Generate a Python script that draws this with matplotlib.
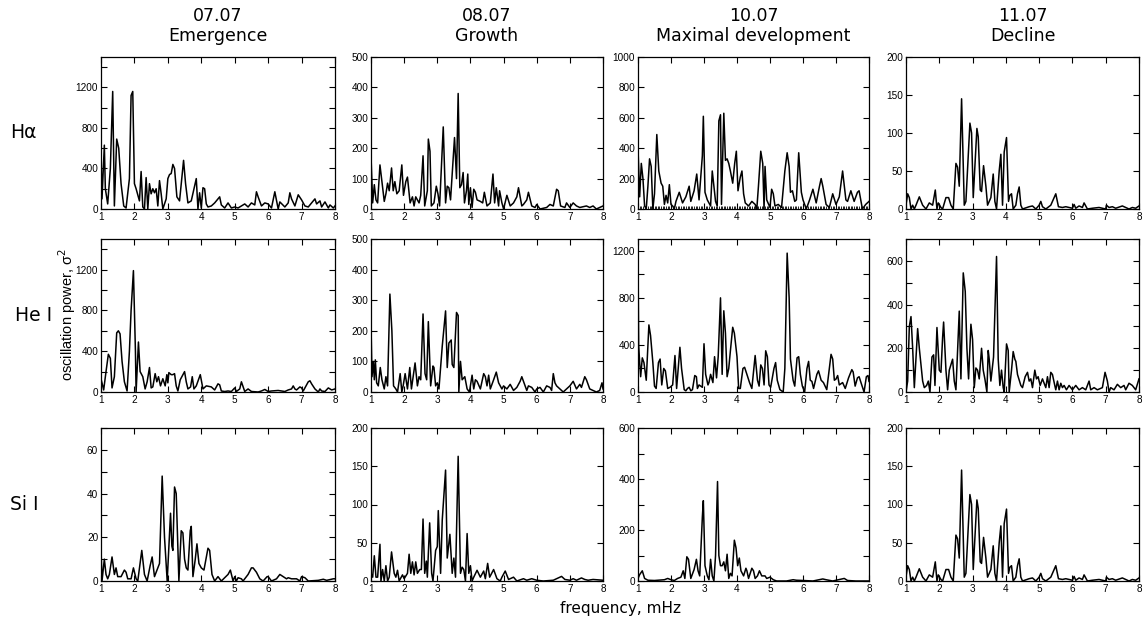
import numpy as np
import matplotlib.pyplot as plt

dates = ['07.07', '08.07', '10.07', '11.07']
phases = ['Emergence', 'Growth', 'Maximal development', 'Decline']
lines = ['Hα', 'He I', 'Si I']

# H-alpha spectra
ha_0707_f = [1.0, 1.03, 1.1, 1.13, 1.2, 1.28, 1.35, 1.4, 1.47, 1.53, 1.6, 1.68, 1.75, 1.85, 1.9, 1.95,
             2.0, 2.05, 2.15, 2.2, 2.25, 2.3, 2.35, 2.4, 2.45, 2.5, 2.55, 2.6, 2.65, 2.7, 2.75, 2.8,
             2.85, 2.95, 3.0, 3.05, 3.1, 3.15, 3.2, 3.27, 3.35, 3.47, 3.53, 3.6, 3.7, 3.85, 3.9, 3.95,
             4.0, 4.05, 4.1, 4.15, 4.2, 4.3, 4.4, 4.55, 4.6, 4.7, 4.8, 4.9, 5.0, 5.1, 5.3, 5.4, 5.5,
             5.6, 5.65, 5.7, 5.8, 5.9, 6.0, 6.1, 6.2, 6.3, 6.35, 6.5, 6.6, 6.65, 6.7, 6.8, 6.9, 7.0,
             7.1, 7.2, 7.4, 7.45, 7.55, 7.6, 7.7, 7.8, 7.85, 7.95, 8.0]
ha_0707_p = [600, 100, 630, 200, 50, 400, 1160, 30, 690, 600, 250, 30, 10, 300, 1120, 1160,
             250, 200, 80, 370, 20, 0, 310, 0, 250, 150, 200, 160, 200, 30, 280, 150,
             0, 100, 300, 340, 350, 440, 400, 120, 80, 480, 250, 60, 80, 300, 0, 160,
             10, 210, 200, 50, 20, 30, 60, 120, 40, 10, 60, 10, 20, 10, 50, 20, 60,
             40, 170, 120, 30, 60, 50, 10, 170, 0, 70, 20, 60, 160, 100, 30, 140, 90,
             30, 20, 100, 50, 80, 20, 70, 10, 40, 10, 30]

ha_0807_f = [1.0, 1.05, 1.1, 1.15, 1.2, 1.27, 1.33, 1.4, 1.45, 1.5, 1.55, 1.62, 1.67, 1.72, 1.78,
             1.85, 1.93, 1.98, 2.05, 2.1, 2.18, 2.25, 2.3, 2.35, 2.4, 2.45, 2.5, 2.57, 2.62, 2.7,
             2.73, 2.78, 2.82, 2.9, 2.97, 3.02, 3.07, 3.18, 3.25, 3.3, 3.35, 3.4, 3.52, 3.58, 3.63,
             3.68, 3.73, 3.78, 3.82, 3.88, 3.92, 3.95, 4.0, 4.05, 4.1, 4.15, 4.2, 4.3, 4.37, 4.42,
             4.5, 4.6, 4.68, 4.73, 4.78, 4.85, 4.88, 4.95, 5.0, 5.1, 5.2, 5.3, 5.4, 5.45, 5.55, 5.6,
             5.7, 5.75, 5.85, 5.95, 6.0, 6.1, 6.3, 6.4, 6.5, 6.6, 6.65, 6.72, 6.85, 6.9, 7.0, 7.1,
             7.2, 7.3, 7.5, 7.6, 7.7, 7.8, 7.9, 8.0]
ha_0807_p = [175, 20, 80, 30, 20, 145, 90, 25, 50, 85, 60, 135, 60, 90, 50,
             60, 145, 45, 90, 105, 20, 40, 10, 40, 30, 20, 45, 175, 10, 60,
             230, 190, 10, 20, 75, 50, 10, 270, 20, 75, 70, 30, 235, 100, 380,
             70, 80, 120, 20, 60, 115, 15, 70, 5, 65, 55, 30, 25, 20, 55,
             10, 20, 115, 20, 70, 10, 60, 20, 0, 45, 10, 20, 40, 70, 10, 15,
             30, 55, 10, 5, 15, 0, 5, 15, 10, 65, 60, 10, 5, 20, 5, 20,
             10, 5, 10, 5, 10, 0, 5, 10]

ha_1007_f = [1.0, 1.05, 1.1, 1.15, 1.2, 1.25, 1.3, 1.35, 1.4, 1.45, 1.5, 1.57, 1.63, 1.7, 1.75,
             1.8, 1.85, 1.9, 1.95, 2.0, 2.05, 2.1, 2.15, 2.25, 2.35, 2.45, 2.55, 2.6, 2.7, 2.78,
             2.85, 2.95, 2.98, 3.03, 3.1, 3.2, 3.25, 3.3, 3.35, 3.4, 3.45, 3.5, 3.53, 3.6, 3.65,
             3.7, 3.75, 3.8, 3.87, 3.93, 3.98, 4.03, 4.1, 4.15, 4.2, 4.25, 4.35, 4.45, 4.55, 4.6,
             4.65, 4.72, 4.78, 4.82, 4.85, 4.9, 5.0, 5.05, 5.1, 5.15, 5.25, 5.35, 5.45, 5.52, 5.58,
             5.62, 5.68, 5.75, 5.8, 5.87, 5.95, 6.0, 6.1, 6.2, 6.3, 6.4, 6.5, 6.55, 6.6, 6.7, 6.8,
             6.9, 7.0, 7.1, 7.2, 7.3, 7.35, 7.45, 7.55, 7.65, 7.7, 7.8, 7.9, 8.0]
ha_1007_p = [400, 80, 300, 200, 20, 0, 150, 330, 280, 0, 100, 490, 250, 170, 150,
             30, 90, 40, 160, 30, 20, 0, 50, 110, 40, 80, 150, 50, 120, 230,
             60, 350, 610, 110, 60, 20, 250, 150, 50, 20, 580, 620, 30, 630, 320,
             330, 300, 250, 170, 300, 380, 120, 210, 250, 100, 40, 20, 50, 30, 0,
             150, 380, 300, 0, 280, 60, 10, 130, 100, 20, 30, 10, 250, 370, 280,
             110, 120, 50, 60, 370, 110, 60, 0, 60, 130, 40, 150, 200, 150, 30, 10,
             100, 30, 80, 250, 60, 50, 120, 50, 110, 120, 0, 30, 50]

# 11.07 (identical in the Halpha and Si I rows of the original figure)
d1107_f = [1.0, 1.05, 1.1, 1.15, 1.2, 1.25, 1.3, 1.4, 1.5, 1.6, 1.7, 1.8, 1.88, 1.93, 1.97, 2.05,
           2.1, 2.2, 2.28, 2.35, 2.42, 2.5, 2.55, 2.6, 2.67, 2.75, 2.8, 2.92, 2.97, 3.02, 3.13,
           3.17, 3.23, 3.27, 3.33, 3.4, 3.45, 3.55, 3.62, 3.67, 3.72, 3.8, 3.85, 3.9, 3.95, 4.02,
           4.08, 4.12, 4.17, 4.22, 4.3, 4.35, 4.4, 4.45, 4.5, 4.7, 4.8, 4.9, 5.0, 5.05, 5.1, 5.2,
           5.35, 5.5, 5.58, 5.7, 5.8, 6.0, 6.05, 6.1, 6.2, 6.3, 6.35, 6.45, 6.6, 6.8, 7.0, 7.02,
           7.1, 7.2, 7.3, 7.5, 7.6, 7.7, 7.8, 7.9, 8.0]
d1107_p = [5, 20, 15, 0, 5, 0, 5, 16, 5, 0, 8, 5, 25, 0, 8, 2,
           0, 15, 15, 5, 0, 60, 55, 30, 145, 5, 10, 113, 100, 15, 106,
           95, 25, 23, 57, 30, 5, 15, 46, 10, 0, 50, 72, 5, 75, 94,
           10, 18, 20, 0, 5, 20, 29, 5, 0, 3, 4, 0, 5, 10, 3, 0,
           5, 20, 3, 2, 3, 1, 6, 1, 4, 2, 8, 0, 1, 2, 0, 5,
           2, 3, 1, 4, 2, 0, 2, 1, 4]

# He I spectra
he_0707_f = [1.0, 1.08, 1.15, 1.22, 1.28, 1.33, 1.4, 1.47, 1.52, 1.57, 1.63, 1.7, 1.78, 1.85, 1.9,
             1.97, 2.03, 2.05, 2.12, 2.17, 2.25, 2.32, 2.38, 2.45, 2.5, 2.55, 2.62, 2.67, 2.72, 2.78,
             2.85, 2.92, 2.97, 3.0, 3.03, 3.1, 3.15, 3.2, 3.25, 3.3, 3.37, 3.5, 3.55, 3.6, 3.68,
             3.73, 3.78, 3.85, 3.97, 4.05, 4.15, 4.3, 4.4, 4.5, 4.55, 4.6, 4.7, 4.8, 4.9, 5.0,
             5.05, 5.15, 5.2, 5.3, 5.4, 5.5, 5.7, 5.8, 5.9, 6.0, 6.1, 6.3, 6.5, 6.6, 6.7, 6.75,
             6.8, 6.85, 6.95, 7.0, 7.05, 7.2, 7.25, 7.3, 7.4, 7.5, 7.55, 7.6, 7.7, 7.8, 7.85, 7.9, 8.0]
he_0707_p = [130, 20, 200, 370, 330, 40, 150, 580, 600, 570, 300, 100, 10, 400, 800,
             1190, 400, 0, 490, 200, 150, 30, 100, 240, 40, 50, 180, 100, 150, 60,
             130, 60, 170, 90, 190, 170, 170, 180, 60, 10, 120, 200, 100, 30, 50,
             150, 30, 60, 170, 30, 60, 50, 20, 80, 70, 10, 5, 10, 5, 40,
             5, 30, 100, 5, 30, 5, 0, 10, 25, 5, 10, 15, 5, 20, 30, 60,
             30, 20, 50, 40, 10, 100, 110, 80, 30, 0, 30, 10, 5, 40, 30, 20, 30]

he_0807_f = [1.0, 1.03, 1.07, 1.1, 1.13, 1.17, 1.22, 1.28, 1.33, 1.4, 1.45, 1.5, 1.57, 1.63, 1.68,
             1.75, 1.8, 1.88, 1.93, 1.97, 2.03, 2.1, 2.17, 2.22, 2.33, 2.4, 2.45, 2.5, 2.57, 2.63,
             2.68, 2.73, 2.8, 2.87, 2.9, 2.95, 3.0, 3.05, 3.15, 3.25, 3.3, 3.35, 3.42, 3.45, 3.5,
             3.58, 3.63, 3.65, 3.7, 3.75, 3.83, 3.9, 3.97, 4.05, 4.1, 4.15, 4.2, 4.3, 4.4, 4.45,
             4.5, 4.55, 4.6, 4.7, 4.78, 4.85, 4.9, 4.95, 5.0, 5.1, 5.2, 5.3, 5.4, 5.5, 5.55, 5.6,
             5.7, 5.75, 5.85, 5.95, 6.0, 6.1, 6.2, 6.3, 6.4, 6.45, 6.5, 6.55, 6.6, 6.7, 6.8, 6.9,
             7.0, 7.1, 7.2, 7.3, 7.35, 7.45, 7.5, 7.6, 7.7, 7.8, 7.9, 7.97, 8.0]
he_0807_p = [220, 50, 100, 40, 105, 30, 20, 80, 40, 10, 50, 20, 320, 200, 20,
             10, 0, 60, 0, 20, 60, 10, 80, 10, 95, 20, 50, 40, 255, 60,
             40, 230, 20, 85, 80, 20, 30, 10, 150, 265, 80, 160, 170, 90, 80,
             260, 250, 0, 100, 40, 50, 10, 0, 55, 10, 40, 35, 10, 60, 50,
             20, 55, 10, 40, 65, 30, 20, 10, 20, 10, 25, 5, 15, 35, 50, 35,
             5, 20, 15, 0, 10, 15, 0, 20, 15, 5, 60, 30, 20, 10, 0, 10,
             20, 35, 10, 25, 15, 50, 40, 10, 5, 0, 5, 30, 10]

he_1007_f = [1.0, 1.02, 1.05, 1.08, 1.13, 1.18, 1.25, 1.33, 1.38, 1.45, 1.5, 1.55, 1.62, 1.67, 1.72,
             1.78, 1.83, 1.9, 1.97, 2.05, 2.12, 2.17, 2.27, 2.32, 2.4, 2.45, 2.5, 2.55, 2.6, 2.65,
             2.72, 2.77, 2.8, 2.85, 2.9, 2.95, 3.0, 3.05, 3.12, 3.15, 3.2, 3.27, 3.32, 3.38, 3.43,
             3.5, 3.55, 3.6, 3.65, 3.7, 3.75, 3.8, 3.87, 3.92, 4.0, 4.05, 4.1, 4.18, 4.23, 4.3,
             4.38, 4.45, 4.55, 4.62, 4.67, 4.72, 4.77, 4.82, 4.87, 4.92, 4.97, 5.02, 5.12, 5.17, 5.22,
             5.3, 5.4, 5.45, 5.52, 5.58, 5.62, 5.7, 5.75, 5.82, 5.87, 5.92, 5.98, 6.05, 6.12, 6.17,
             6.22, 6.27, 6.32, 6.42, 6.47, 6.55, 6.62, 6.72, 6.85, 6.9, 6.95, 7.0, 7.05, 7.1, 7.2,
             7.28, 7.38, 7.48, 7.52, 7.58, 7.65, 7.7, 7.78, 7.85, 7.92, 7.97, 8.0]
he_1007_p = [1150, 400, 250, 130, 290, 250, 100, 570, 480, 250, 50, 30, 250, 280, 60,
             200, 180, 30, 40, 60, 310, 30, 380, 200, 20, 10, 30, 40, 10, 20,
             140, 130, 30, 60, 50, 40, 410, 150, 60, 80, 150, 80, 300, 120, 300,
             800, 150, 690, 500, 130, 200, 350, 550, 500, 300, 30, 30, 200, 210, 150,
             80, 30, 310, 100, 50, 230, 200, 60, 350, 300, 60, 40, 200, 250, 100,
             20, 0, 200, 1180, 800, 280, 100, 50, 290, 300, 150, 50, 0, 200, 260,
             100, 90, 30, 150, 180, 100, 80, 20, 320, 280, 100, 110, 140, 60, 80,
             30, 120, 190, 170, 50, 120, 130, 60, 0, 130, 140, 90]

he_1107_f = [1.0, 1.05, 1.1, 1.15, 1.2, 1.25, 1.35, 1.4, 1.5, 1.55, 1.62, 1.67, 1.72, 1.78, 1.83,
             1.87, 1.93, 2.0, 2.05, 2.1, 2.13, 2.2, 2.25, 2.3, 2.4, 2.45, 2.5, 2.6, 2.65, 2.72,
             2.78, 2.83, 2.88, 2.95, 3.0, 3.05, 3.1, 3.15, 3.2, 3.27, 3.32, 3.37, 3.43, 3.47, 3.5,
             3.55, 3.63, 3.72, 3.77, 3.82, 3.87, 3.92, 3.95, 4.02, 4.07, 4.1, 4.17, 4.22, 4.27, 4.3,
             4.35, 4.45, 4.5, 4.58, 4.65, 4.7, 4.75, 4.8, 4.87, 4.92, 4.97, 5.03, 5.1, 5.15, 5.2,
             5.25, 5.3, 5.35, 5.4, 5.47, 5.5, 5.55, 5.6, 5.65, 5.7, 5.75, 5.82, 5.9, 6.0, 6.1,
             6.2, 6.3, 6.4, 6.5, 6.55, 6.65, 6.75, 6.9, 6.98, 7.05, 7.1, 7.15, 7.25, 7.35, 7.45,
             7.55, 7.6, 7.7, 7.8, 7.9, 8.0]
he_1107_p = [0, 50, 300, 345, 200, 20, 290, 200, 50, 20, 30, 50, 0, 160, 170,
             30, 295, 100, 90, 250, 320, 100, 10, 100, 150, 50, 10, 370, 60, 545,
             460, 200, 60, 310, 240, 20, 110, 100, 60, 200, 100, 60, 0, 190, 150,
             50, 160, 620, 150, 30, 100, 20, 0, 220, 190, 0, 100, 185, 150, 140,
             80, 30, 20, 70, 90, 50, 60, 20, 100, 60, 70, 30, 60, 40, 20,
             70, 20, 90, 80, 30, 10, 50, 10, 40, 20, 30, 10, 30, 10, 30,
             10, 20, 10, 50, 10, 20, 10, 20, 90, 50, 0, 20, 10, 35, 20,
             30, 10, 40, 30, 10, 60]

# Si I spectra
si_0707_f = [1.0, 1.03, 1.1, 1.15, 1.2, 1.25, 1.33, 1.4, 1.45, 1.5, 1.6, 1.7, 1.75, 1.8, 1.9, 1.97,
             2.05, 2.1, 2.22, 2.3, 2.38, 2.47, 2.53, 2.6, 2.7, 2.75, 2.83, 2.9, 2.98, 3.08, 3.12,
             3.15, 3.2, 3.25, 3.33, 3.4, 3.45, 3.5, 3.55, 3.6, 3.67, 3.7, 3.75, 3.82, 3.87, 3.93,
             4.0, 4.08, 4.2, 4.25, 4.32, 4.4, 4.5, 4.6, 4.8, 4.87, 4.95, 5.0, 5.05, 5.1, 5.2, 5.25,
             5.4, 5.5, 5.55, 5.65, 5.75, 5.85, 5.97, 6.0, 6.1, 6.25, 6.35, 6.45, 6.55, 6.6, 6.7,
             6.85, 6.95, 7.0, 7.1, 7.2, 7.5, 7.65, 7.75, 7.95, 8.0]
si_0707_p = [15, 0, 10, 3, 1, 3, 11, 3, 6, 2, 2, 5, 4, 1, 1, 6,
             1, 0, 14, 3, 0, 7, 11, 2, 6, 8, 48, 20, 0, 31, 16,
             14, 43, 40, 0, 23, 22, 10, 6, 5, 23, 25, 2, 10, 17, 8,
             6, 5, 15, 14, 3, 0, 2, 0, 3, 5, 0, 2, 0, 1.5, 1, 0,
             3, 6, 6, 4, 1, 0, 2, 2, 0, 1, 3, 2, 1, 1.5, 1,
             1, 0, 2, 1.5, 0, 0.3, 0.8, 0.3, 1, 1]

si_0807_f = [1.0, 1.05, 1.1, 1.15, 1.2, 1.27, 1.3, 1.35, 1.4, 1.45, 1.5, 1.55, 1.62, 1.7, 1.75,
             1.8, 1.85, 1.95, 2.0, 2.1, 2.15, 2.2, 2.25, 2.3, 2.35, 2.4, 2.47, 2.52, 2.57, 2.62,
             2.67, 2.7, 2.77, 2.83, 2.87, 2.95, 3.0, 3.03, 3.1, 3.15, 3.25, 3.3, 3.38, 3.45, 3.5,
             3.55, 3.63, 3.7, 3.75, 3.8, 3.85, 3.9, 3.95, 4.0, 4.05, 4.1, 4.2, 4.3, 4.4, 4.45,
             4.52, 4.58, 4.7, 4.8, 4.9, 4.95, 5.05, 5.15, 5.3, 5.4, 5.6, 5.7, 5.85, 6.0, 6.2,
             6.5, 6.7, 6.75, 6.85, 7.0, 7.1, 7.2, 7.35, 7.45, 7.55, 7.7, 8.0]
si_0807_p = [10, 5, 33, 5, 5, 48, 0, 15, 0, 20, 0, 5, 38, 10, 5,
             14, 0, 8, 3, 10, 35, 10, 25, 8, 25, 10, 15, 15, 81, 10,
             26, 5, 76, 10, 0, 40, 45, 92, 10, 80, 145, 30, 61, 10, 30,
             5, 163, 10, 18, 15, 0, 62, 10, 20, 0, 5, 14, 5, 13, 3,
             23, 5, 15, 3, 0, 5, 13, 2, 5, 0, 3, 1, 3, 1, 0,
             1, 5, 6, 2, 1, 3, 1, 4, 2, 1, 2, 1]

si_1007_f = [1.0, 1.05, 1.13, 1.2, 1.3, 1.5, 1.8, 1.9, 2.0, 2.1, 2.2, 2.3, 2.37, 2.42, 2.48, 2.53,
             2.6, 2.7, 2.77, 2.82, 2.87, 2.95, 2.98, 3.03, 3.1, 3.15, 3.2, 3.25, 3.3, 3.35, 3.41,
             3.45, 3.5, 3.55, 3.6, 3.65, 3.7, 3.75, 3.8, 3.85, 3.92, 3.97, 4.02, 4.07, 4.12, 4.2,
             4.27, 4.3, 4.35, 4.45, 4.5, 4.55, 4.62, 4.68, 4.75, 4.85, 4.9, 5.0, 5.1, 5.2, 5.5,
             5.7, 5.8, 6.0, 6.3, 6.6, 6.7, 6.9, 7.25, 7.35, 7.6, 8.0]
si_1007_p = [10, 25, 40, 10, 3, 2, 5, 10, 5, 2, 10, 15, 40, 10, 95, 85,
             10, 45, 85, 40, 20, 250, 315, 60, 20, 5, 85, 20, 0, 100, 390,
             100, 60, 60, 75, 40, 105, 10, 30, 20, 160, 130, 60, 90, 40, 20,
             50, 40, 10, 50, 40, 10, 20, 40, 20, 20, 10, 15, 5, 0, 0,
             5, 3, 2, 0, 8, 5, 0, 10, 2, 0, 0]

spectra = [[(ha_0707_f, ha_0707_p), (ha_0807_f, ha_0807_p), (ha_1007_f, ha_1007_p), (d1107_f, d1107_p)],
           [(he_0707_f, he_0707_p), (he_0807_f, he_0807_p), (he_1007_f, he_1007_p), (he_1107_f, he_1107_p)],
           [(si_0707_f, si_0707_p), (si_0807_f, si_0807_p), (si_1007_f, si_1007_p), (d1107_f, d1107_p)]]

y_max = [[1500, 500, 1000, 200], [1500, 500, 1300, 700], [70, 200, 600, 200]]
y_step = [[200, 100, 200, 50], [200, 100, 200, 100], [10, 50, 100, 50]]
y_lab = [[400, 100, 200, 50], [400, 100, 400, 200], [20, 50, 200, 50]]

W, H = 1146, 624
lefts = [101, 371, 638, 906]
widths = [234, 232, 231, 233]
tops = [57, 239, 428]
heights = [152, 153, 153]
label_x = [10, 15, 10]

fig = plt.figure(figsize=(W / 100, H / 100), dpi=100)
tick_font = 'Liberation Sans'

for i in range(3):
    for j in range(4):
        ax = fig.add_axes([lefts[j] / W, 1 - (tops[i] + heights[i]) / H, widths[j] / W, heights[i] / H])
        f, p = spectra[i][j]
        ax.plot(f, p, color='k', lw=1.1)
        ax.set_xlim(1, 8)
        ax.set_ylim(0, y_max[i][j])
        ax.set_xticks(range(1, 9))
        yt = np.arange(0, y_max[i][j] + 1, y_step[i][j])
        ax.set_yticks(yt)
        ax.set_yticklabels([str(v) if v % y_lab[i][j] == 0 else '' for v in yt])
        ax.tick_params(direction='in', top=True, right=True, length=4, width=0.8,
                       labelsize=7.2, pad=2)
        for lab in ax.get_xticklabels() + ax.get_yticklabels():
            lab.set_family(tick_font)
        if i == 0 and j == 2:
            ax.set_xticks(np.arange(1, 8.001, 0.05), minor=True)
            ax.tick_params(axis='x', which='minor', direction='in', length=2, width=0.6, top=False)
        for s in ax.spines.values():
            s.set_linewidth(0.9)
    fig.text(label_x[i] / W, 1 - (tops[i] + heights[i] / 2) / H, lines[i],
             ha='left', va='center', fontsize=13.5)

for j in range(4):
    fig.text((lefts[j] + widths[j] / 2) / W, 1 - 26 / H, dates[j] + '\n' + phases[j],
             ha='center', va='center', fontsize=12.5, linespacing=1.2)

fig.text(67 / W, 1 - 315 / H, 'oscillation power, σ$^2$', rotation=90,
         ha='center', va='center', fontsize=10.5, family=tick_font)
fig.text(620 / W, 1 - 608 / H, 'frequency, mHz', ha='center', va='center', fontsize=11)

fig.savefig('out.png', dpi=100)
